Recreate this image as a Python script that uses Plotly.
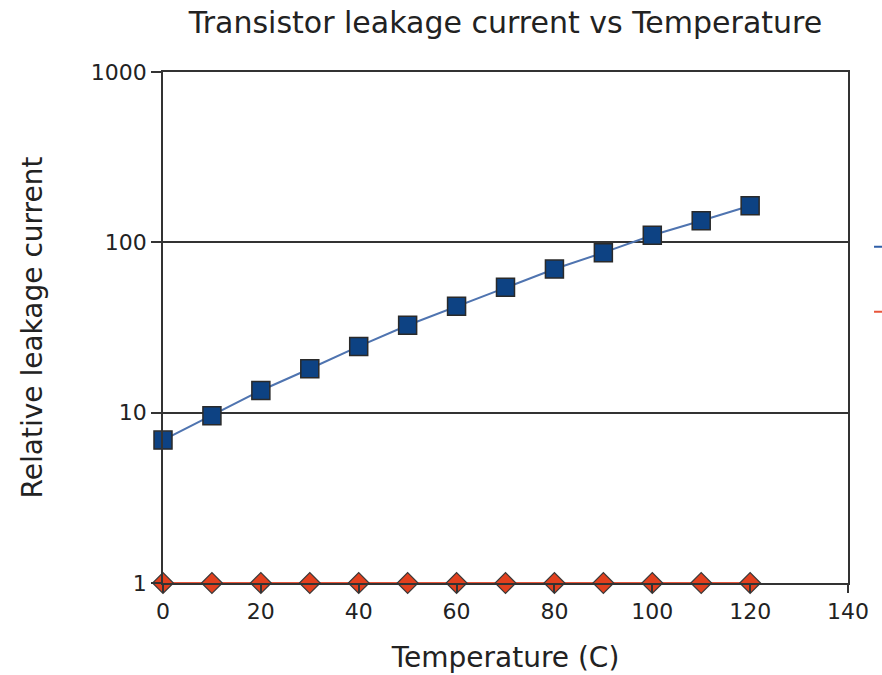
import plotly.graph_objects as go

temperature = [0, 10, 20, 30, 40, 50, 60, 70, 80, 90, 100, 110, 120]
leakage = [6.9, 9.6, 13.5, 18.1, 24.5, 32.6, 42.1, 54.5, 69.7, 87.0, 110.0, 134.0, 164.0]
reference = [1.0] * 13
x_ticks = [0, 20, 40, 60, 80, 100, 120, 140]
y_ticks = [1, 10, 100, 1000]
y_tick_labels = ["1", "10", "100", "1000"]
series_names = ["Leakage current", "Reference"]

FONT = "DejaVu Sans"
TXT = "#222222"
AX = "#333333"
BLUE_LINE = "#4f74b0"
RED_LINE = "#e8553a"

fig = go.Figure()
fig.add_trace(go.Scatter(
    x=temperature, y=leakage, mode="lines+markers", name=series_names[0],
    line=dict(color=BLUE_LINE, width=2),
    marker=dict(symbol="square", size=18, color="#0d4283",
                line=dict(color="#2a2a2a", width=1.5)),
    cliponaxis=False, showlegend=False,
))
fig.add_trace(go.Scatter(
    x=temperature, y=reference, mode="lines+markers", name=series_names[1],
    line=dict(color=RED_LINE, width=2),
    marker=dict(symbol="diamond", size=16, color="#e2401e",
                line=dict(color="#3a3a3a", width=1.2)),
    cliponaxis=False, showlegend=False,
))
# legend keys (line only), cut off by the window edge as in the reference
fig.add_trace(go.Scatter(x=[None], y=[None], mode="lines", name=" ",
                         line=dict(color="#2f5fa8", width=2), legend="legend"))
fig.add_trace(go.Scatter(x=[None], y=[None], mode="lines", name=" ",
                         line=dict(color=RED_LINE, width=2), legend="legend2"))

fig.update_layout(
    width=882, height=675,
    margin=dict(l=163, r=34, t=72, b=92, autoexpand=False),
    paper_bgcolor="white", plot_bgcolor="white",
    font=dict(family=FONT, color=TXT, size=22),
    title=dict(text="Transistor leakage current vs Temperature",
               x=0.5, xref="paper", xanchor="center",
               y=1 - 22 / 675, yref="container", yanchor="middle",
               font=dict(family=FONT, size=30, color=TXT)),
    xaxis=dict(range=[0, 140], tickvals=x_ticks, ticks="outside", ticklen=8,
               tickcolor=AX, tickwidth=1.5, showline=True, linecolor=AX,
               linewidth=1.5, mirror=True, showgrid=False, zeroline=False,
               tickfont=dict(size=22, color=TXT),
               title=dict(text="Temperature (C)", font=dict(size=28, color=TXT),
                          standoff=24)),
    yaxis=dict(type="log", range=[0, 3], tickvals=y_ticks, ticktext=y_tick_labels,
               ticks="outside", ticklen=10, tickcolor=AX, tickwidth=1.5,
               showline=True, linecolor=AX, linewidth=1.5, mirror=True,
               showgrid=True, gridcolor=AX, gridwidth=1.5, zeroline=False,
               tickfont=dict(size=22, color=TXT),
               title=dict(text="Relative leakage current",
                          font=dict(size=28, color=TXT), standoff=40)),
    legend=dict(x=1.0307, xanchor="left", y=0.657, yanchor="middle",
                bgcolor="rgba(0,0,0,0)", font=dict(size=14)),
    legend2=dict(x=1.0307, xanchor="left", y=0.530, yanchor="middle",
                 bgcolor="rgba(0,0,0,0)", font=dict(size=14)),
)

fig.write_html("out.html")
